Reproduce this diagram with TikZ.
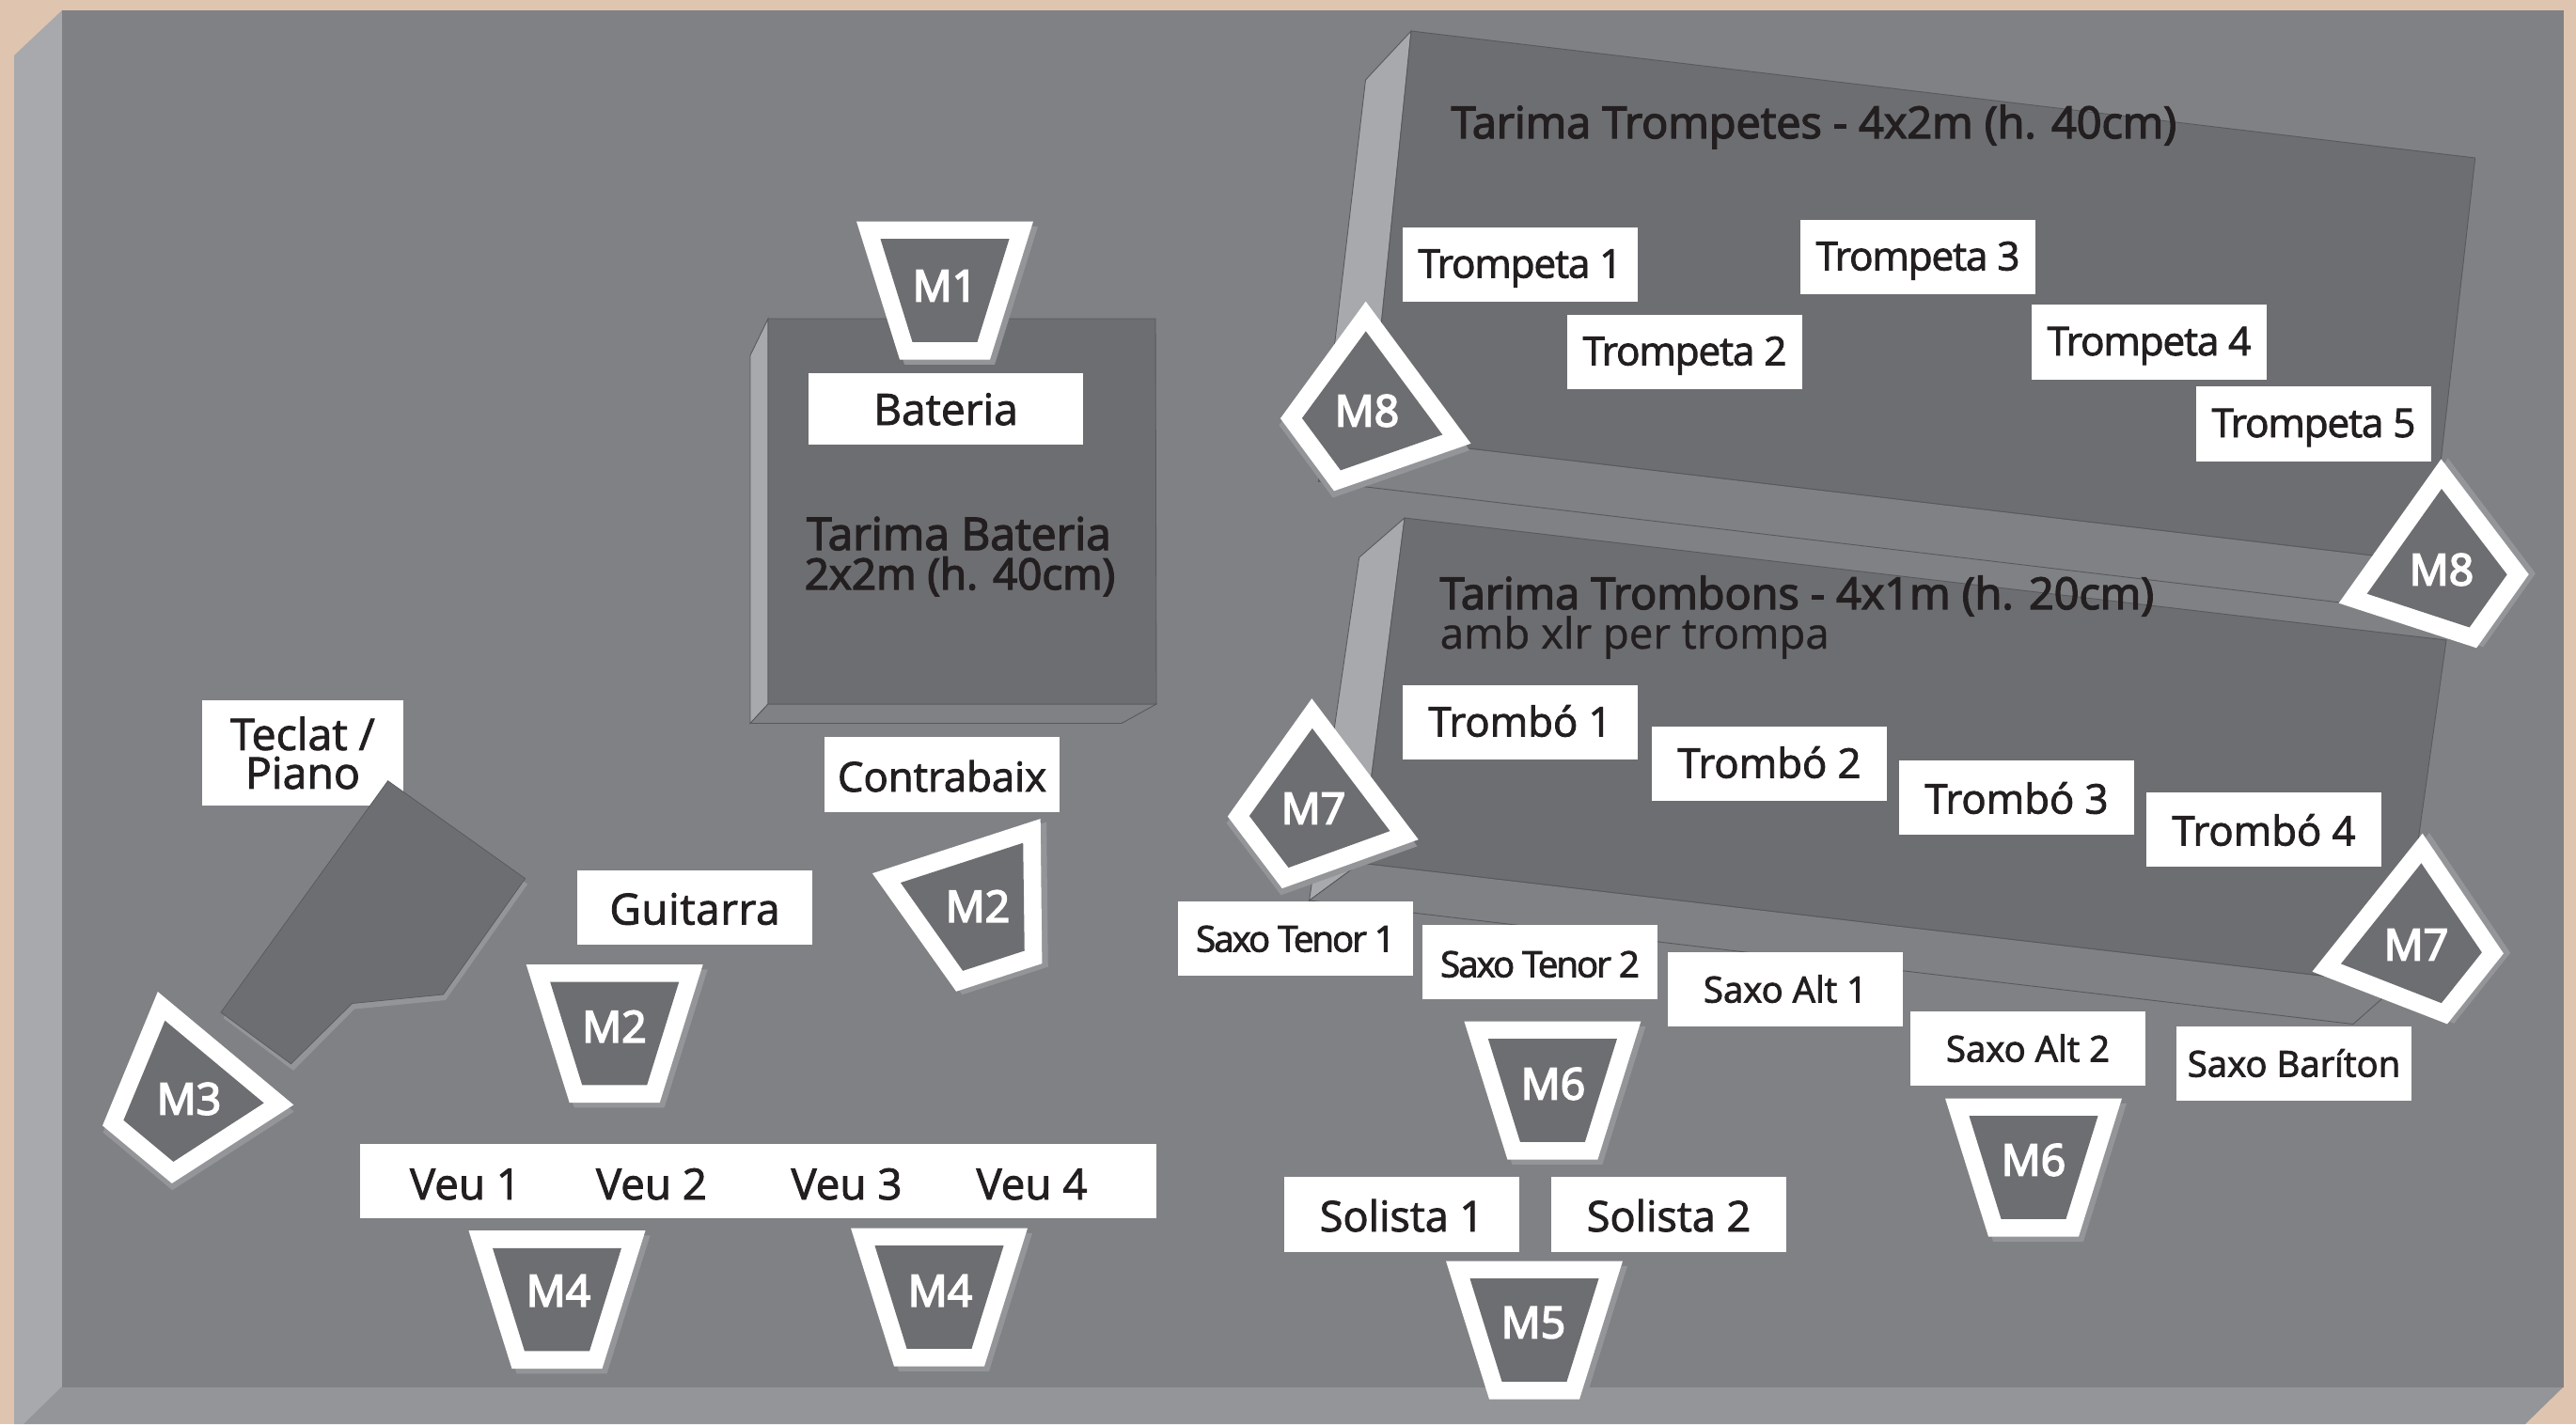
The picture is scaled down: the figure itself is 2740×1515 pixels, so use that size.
\documentclass[tikz,border=0pt]{standalone}
\usepackage{fontspec}
\setmainfont{Open Sans}
\newfontfamily\tptfont[LetterSpace=-2.5]{Open Sans}
\newfontfamily\tenorfont[LetterSpace=-5]{Open Sans}
\newfontfamily\gtrfont[LetterSpace=1.5]{Open Sans}
\definecolor{sand}{HTML}{DFC4AF}
\definecolor{floorgray}{HTML}{808184}
\definecolor{wallgray}{HTML}{A7A9AC}
\definecolor{frontgray}{HTML}{939598}
\definecolor{stagegray}{HTML}{6D6E71}
\definecolor{edgegray}{HTML}{58595B}
\definecolor{inkgray}{HTML}{231F20}
\tikzset{
  heavy/.style={execute at begin node={\special{pdf:code 2 Tr #1 w}},
    execute at end node={\special{pdf:code 0 Tr}}},
  monitor/.pic={
    \fill[frontgray] (-89,-68.2) -- (99,-68.2) -- (53,78.8) -- (-43,78.8) -- cycle;
    \fill[white] (-94,-73.5) -- (94,-73.5) -- (48,73.5) -- (-48,73.5) -- cycle;
    \fill[stagegray] (-68.5,-54.8) -- (68.5,-54.8) -- (34.5,54.8) -- (-34.5,54.8) -- cycle;
  }
}
\begin{document}
\begin{tikzpicture}[x=0.01cm, y=-0.01cm,
    word/.style={fill=white, text=inkgray, inner sep=0pt, minimum width=2.5cm, minimum height=0.79cm,
      text height=0.33cm, text depth=0.01cm, heavy=0.25},
    trumpet/.style={word, text height=0.29cm, font=\tptfont\fontsize{12}{12}\selectfont},
    trombone/.style={word, font=\fontsize{12.4}{12.4}\selectfont},
    sax/.style={word, text height=0.29cm, font=\fontsize{10.9}{10.9}\selectfont},
    tenor/.style={word, text height=0.29cm, font=\tenorfont\fontsize{10.9}{10.9}\selectfont},
    player/.style={word, text height=0.37cm, font=\fontsize{12.8}{12.8}\selectfont},
    voice/.style={fill=none, text=inkgray, inner sep=0pt, font=\fontsize{13}{13}\selectfont,
      text height=0.33cm, text depth=0.01cm, heavy=0.25},
    mic/.style={text=white, inner sep=0pt, font=\fontsize{13.2}{13.2}\selectfont, heavy=0.5},
    title/.style={text=inkgray, inner sep=0pt, anchor=base west, font=\fontsize{13.3}{13.3}\selectfont, heavy=0.4},
    plat/.style={draw=edgegray, line width=0.25pt}]
  \useasboundingbox (0,0) rectangle (2740,1515);
  \fill[sand] (0,0) rectangle (2740,1515);
  % floor
  \fill[wallgray] (15,59) -- (66,11) -- (66,1476) -- (25,1515) -- (15,1515) -- cycle;
  \fill[frontgray] (66,1475) -- (2727,1475) -- (2686,1515) -- (25,1515) -- cycle;
  \fill[floorgray] (66,11) rectangle (2727,1476);

  % drum riser
  \filldraw[plat, fill=wallgray] (817,339) -- (798,378) -- (798,769.5) -- (817,749) -- cycle;
  \filldraw[plat, fill=floorgray] (817,749) -- (798,769.5) -- (1193,769.5) -- (1230,749) -- cycle;
  \filldraw[plat, fill=stagegray] (817,339) -- (1229,339) -- (1230,749) -- (817,749) -- cycle;
  \node (TarimaBat) [title, anchor=base, font=\fontsize{13.6}{13.6}\selectfont] at (1020,585) {Tarima Bateria};
  \node (TarimaBatSize) [title, anchor=base, font=\fontsize{13}{13}\selectfont] at (1021,627) {2x2m (h. 40cm)};

  % trumpet riser
  \filldraw[plat, fill=wallgray] (1501,33) -- (1452.5,85) -- (1402.5,512) -- (1457,464.5) -- cycle;
  \filldraw[plat, fill=floorgray] (1457,464.5) -- (1402.5,512) -- (2540,647) -- (2584,598) -- cycle;
  \filldraw[plat, fill=stagegray] (1501,33) -- (2632.7,168) -- (2584,598) -- (1457,464.5) -- cycle;
  \node (TarimaTpt) [title] at (1543,147) {Tarima Trompetes - 4x2m (h. 40cm)};

  % trombone riser
  \filldraw[plat, fill=wallgray] (1494,551) -- (1445.7,593) -- (1392.6,958) -- (1447,918) -- cycle;
  \filldraw[plat, fill=floorgray] (1447,918) -- (1392.6,958) -- (2503,1089.5) -- (2550.5,1047.5) -- cycle;
  \filldraw[plat, fill=stagegray] (1494,551) -- (2602,681) -- (2550.5,1047.5) -- (1447,918) -- cycle;
  \node (TarimaTbn) [title] at (1531,648) {Tarima Trombons - 4x1m (h. 20cm)};
  \node (TarimaXlr) [title, heavy=0.1, font=\fontsize{12.95}{12.95}\selectfont] at (1531,690) {amb xlr per trompa};

  % players
  \node (Bateria) [player, text height=0.35cm, font=\fontsize{13.1}{13.1}\selectfont, minimum width=2.92cm, minimum height=0.76cm] at (1006,435) {Bateria};
  \node (Contrabaix) [word, text height=0.37cm, font=\fontsize{12.4}{12.4}\selectfont] at (1002,824) {Contrabaix};
  \node (Teclat) [fill=white, text=inkgray, inner sep=0pt, minimum width=2.14cm, minimum height=1.12cm, align=center,
    heavy=0.25, font=\fontsize{13.2}{11.7}\selectfont] at (322,801) {Teclat /\\Piano};
  \node (Guitarra) [player, font=\gtrfont\fontsize{13}{13}\selectfont] at (739,965.5) {Guitarra};
  \node (VeuBar) [fill=white, inner sep=0pt, minimum width=8.47cm, minimum height=0.79cm] at (806.5,1256.5) {};
  \node (Veu1) [voice] at (495,1260) {Veu 1};
  \node (Veu2) [voice] at (693,1260) {Veu 2};
  \node (Veu3) [voice] at (900.5,1260) {Veu 3};
  \node (Veu4) [voice] at (1097.5,1260) {Veu 4};
  \node (Tpt1) [trumpet] at (1617,281.5) {Trompeta 1};
  \node (Tpt2) [trumpet] at (1792,374.5) {Trompeta 2};
  \node (Tpt3) [trumpet] at (2040,273.5) {Trompeta 3};
  \node (Tpt4) [trumpet] at (2286,364) {Trompeta 4};
  \node (Tpt5) [trumpet] at (2461,451) {Trompeta 5};
  \node (Tbn1) [trombone, text height=0.31cm] at (1617,768.5) {Trombó 1};
  \node (Tbn2) [trombone, text height=0.31cm] at (1882,812.5) {Trombó 2};
  \node (Tbn3) [trombone, text height=0.35cm] at (2145,848.5) {Trombó 3};
  \node (Tbn4) [trombone, text height=0.35cm] at (2408,882.5) {Trombó 4};
  \node (Tenor1) [tenor] at (1378,998.5) {Saxo Tenor 1};
  \node (Tenor2) [tenor, text height=0.33cm] at (1638,1023.5) {Saxo Tenor 2};
  \node (Alt1) [sax] at (1899,1052.5) {Saxo Alt 1};
  \node (Alt2) [sax] at (2157,1115.5) {Saxo Alt 2};
  \node (Bariton) [sax] at (2440,1131.5) {Saxo Baríton};
  \node (Solista1) [player] at (1491,1292) {Solista 1};
  \node (Solista2) [player] at (1775,1292) {Solista 2};

  % keyboard
  \fill[frontgray] (415.1,836.7) -- (561.1,940.6) -- (474,1064) -- (377.1,1073.5) -- (312,1138.8) -- (237.5,1083) -- cycle;
  \filldraw[draw=edgegray, line width=0.2pt, fill=stagegray] (412.6,830.7) -- (558.6,934.6) -- (471.5,1058) -- (374.6,1067.5)
    -- (309.5,1131.8) -- (235,1077) -- cycle;

  % monitors
  \pic [rotate=0] at (1005,309) {monitor};
  \node (M1) [mic] at (1005,304) {M1};
  \pic [rotate=0] at (653.7,1099.5) {monitor};
  \node (M2a) [mic] at (653.5,1092) {M2};
  \pic [rotate=18] at (1040,970) {monitor};
  \node (M2b) [mic] at (1040,964) {M2};
  \pic [rotate=-39.8] at (193,1171.7) {monitor};
  \node (M3) [mic] at (201,1169) {M3};
  \pic [rotate=0] at (592.5,1382.6) {monitor};
  \node (M4a) [mic] at (594,1373) {M4};
  \pic [rotate=0] at (999,1380) {monitor};
  \node (M4b) [mic] at (1000,1373) {M4};
  \pic [rotate=0] at (1632,1415) {monitor};
  \node (M5) [mic] at (1631,1407) {M5};
  \pic [rotate=0] at (1651.4,1160) {monitor};
  \node (M6a) [mic] at (1652,1153) {M6};
  \pic [rotate=0] at (2163,1242) {monitor};
  \node (M6b) [mic] at (2163,1234) {M6};
  \pic [rotate=-52.9] at (1393.4,862.5) {monitor};
  \node (M7a) [mic] at (1397,860) {M7};
  \pic [rotate=51.4] at (2575.5,1006) {monitor};
  \node (M7b) [mic] at (2570,1005) {M7};
  \pic [rotate=-53.5] at (1449.5,440) {monitor};
  \node (M8a) [mic] at (1454,437) {M8};
  \pic [rotate=54.6] at (2602,607.6) {monitor};
  \node (M8b) [mic] at (2597,606) {M8};
\end{tikzpicture}
\end{document}
